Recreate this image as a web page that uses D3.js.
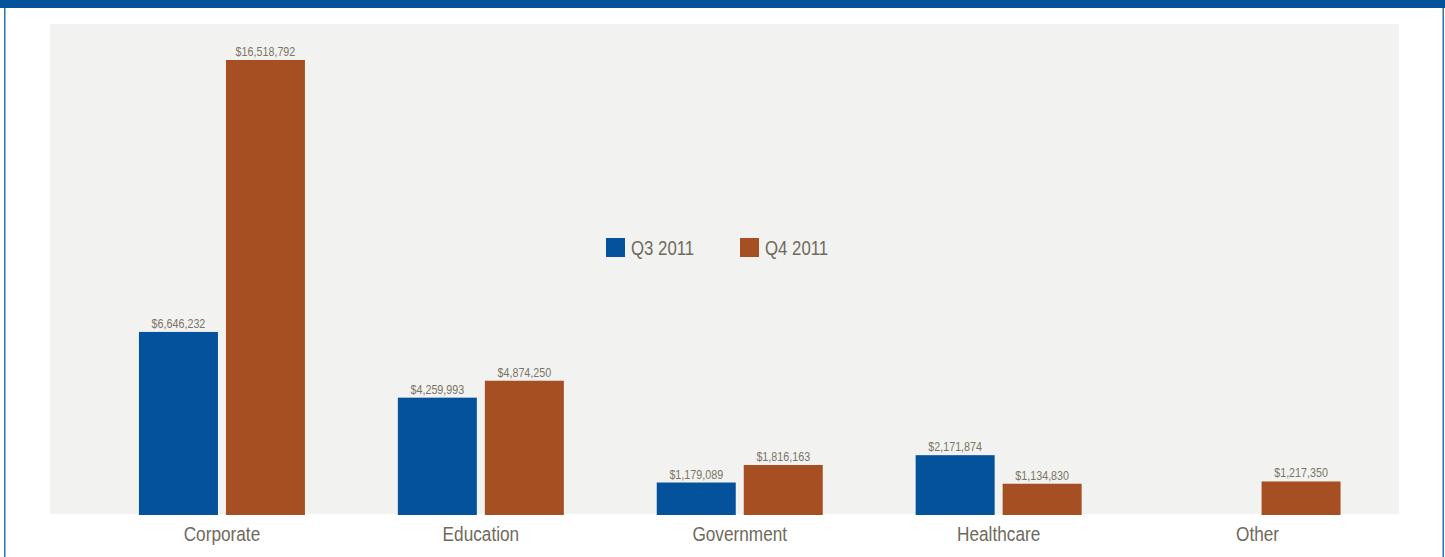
<!DOCTYPE html>
<html>
<head>
<meta charset="utf-8">
<script src="https://cdn.jsdelivr.net/npm/d3@7/dist/d3.min.js"></script>
<style>
  html, body { margin: 0; padding: 0; background: #ffffff; }
  svg { display: block; }
</style>
</head>
<body>
<svg id="chart" width="1445" height="557"></svg>
<script>
// Revenue by market segment, two quarters
const categories = ["Corporate", "Education", "Government", "Healthcare", "Other"];
const seriesNames = ["Q3 2011", "Q4 2011"];
const q3Values = [6646232, 4259993, 1179089, 2171874, null];
const q4Values = [16518792, 4874250, 1816163, 1134830, 1217350];
const seriesColors = ["#05529c", "#a64f23"];

const W = 1445, H = 557;
const svg = d3.select("#chart");

const font = "'Liberation Sans', Arial, sans-serif";
const valueColor = "#7a7466";
const labelColor = "#6f6a5c";

// condensed text: horizontally squeezed sans
function condensedText(sel, x, y, size, squeeze, color, anchor) {
  return sel.append("text")
    .attr("transform", `translate(${x},${y}) scale(${squeeze},1)`)
    .attr("text-anchor", anchor || "start")
    .attr("font-family", font)
    .attr("font-size", size)
    .attr("fill", color);
}

// frame: top band and thin side rules
svg.append("rect").attr("x", 0).attr("y", 0).attr("width", W).attr("height", 8).attr("fill", "#04519b");
svg.append("rect").attr("x", 4).attr("y", 8).attr("width", 1.5).attr("height", H - 8).attr("fill", "#2f6fb5");
svg.append("rect").attr("x", 1442.5).attr("y", 8).attr("width", 1.5).attr("height", H - 8).attr("fill", "#2f6fb5");

// plot background
const plot = { left: 50, right: 1399, top: 24, bottom: 514 };
svg.append("rect")
  .attr("x", plot.left).attr("y", plot.top)
  .attr("width", plot.right - plot.left).attr("height", plot.bottom - plot.top)
  .attr("fill", "#f2f2f0");

const baseline = 515;
const x0 = d3.scaleBand().domain(categories).range([92.5, 1387]);
const x1 = d3.scaleBand().domain(seriesNames).range([-83, 83]).paddingInner(0.092);
const y = d3.scaleLinear().domain([0, 16518792]).range([baseline, 60]);

const rows = categories.map((c, i) => ({
  category: c,
  values: [q3Values[i], q4Values[i]].map((v, j) => ({ series: seriesNames[j], value: v, color: seriesColors[j] }))
}));

const fmt = v => "$" + d3.format(",")(v);

const groups = svg.append("g").selectAll("g").data(rows).join("g")
  .attr("transform", d => `translate(${x0(d.category) + x0.bandwidth() / 2},0)`);

const bars = groups.selectAll("g.bar").data(d => d.values.filter(v => v.value != null)).join("g").attr("class", "bar");

bars.append("rect")
  .attr("x", d => x1(d.series))
  .attr("width", x1.bandwidth())
  .attr("y", d => y(d.value))
  .attr("height", d => baseline - y(d.value))
  .attr("fill", d => d.color);

bars.each(function (d) {
  condensedText(d3.select(this), x1(d.series) + x1.bandwidth() / 2, y(d.value) - 4, 12.5, 0.86, valueColor, "middle")
    .text(fmt(d.value));
});

// category axis
const xAxis = d3.axisBottom(x0).tickSize(0).tickPadding(0);
const axisG = svg.append("g").attr("transform", `translate(0,${baseline})`).call(xAxis);
axisG.select(".domain").remove();
axisG.selectAll(".tick text")
  .attr("y", 0)
  .attr("dy", 0)
  .attr("transform", "translate(0,26) scale(0.84,1)")
  .attr("font-family", font)
  .attr("font-size", 20.5)
  .attr("fill", labelColor);

// legend
const legend = svg.append("g").attr("transform", "translate(606,238)");
const legendOffsets = [0, 134];
seriesNames.forEach((name, i) => {
  const g = legend.append("g").attr("transform", `translate(${legendOffsets[i]},0)`);
  g.append("rect").attr("width", 19).attr("height", 19).attr("fill", seriesColors[i]);
  condensedText(g, 25, 17, 20.5, 0.82, labelColor).text(name);
});
</script>
</body>
</html>
